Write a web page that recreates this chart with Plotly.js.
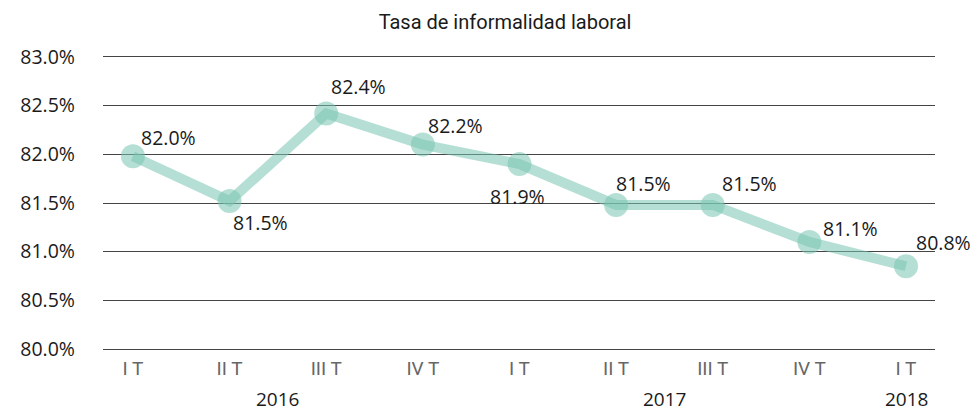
<!DOCTYPE html>
<html>
<head>
<meta charset="utf-8">
<script src="https://cdn.plot.ly/plotly-3.0.1.min.js"></script>
<style>html,body{margin:0;padding:0;background:#fff;}#chart{width:975px;height:413px;}</style>
</head>
<body>
<div id="chart"></div>
<script>
var quarters = ["I T", "II T", "III T", "IV T", "I T", "II T", "III T", "IV T", "I T"];
var values = [81.98, 81.52, 82.42, 82.10, 81.90, 81.48, 81.48, 81.10, 80.85];
var valueLabels = ["82.0%", "81.5%", "82.4%", "82.2%", "81.9%", "81.5%", "81.5%", "81.1%", "80.8%"];
var years = ["2016", "2017", "2018"];
var yearCenters = [1.5, 5.5, 8];
var yTicks = [80.0, 80.5, 81.0, 81.5, 82.0, 82.5, 83.0];

var idx = quarters.map(function(_, i){ return i; });
var labelShift = [
  [36, 19], [31, -21], [32, 27], [33, 19], [-2, -32], [27, 21], [37, 21], [41, 13], [37, 24]
];
var txtFont = {family: "Open Sans, sans-serif", size: 19.5, color: "#1a1a1a"};

var trace = {
  x: idx, y: values, type: "scatter", mode: "lines+markers",
  line: {color: "rgba(120,196,177,0.55)", width: 10},
  marker: {size: 24, color: "rgba(120,196,177,0.55)", line: {width: 0}},
  hoverinfo: "skip"
};

var annotations = values.map(function(v, i){
  return {x: i, y: v, xref: "x", yref: "y", text: valueLabels[i], showarrow: false,
    xshift: labelShift[i][0], yshift: labelShift[i][1], font: txtFont};
});
years.forEach(function(y, i){
  annotations.push({x: yearCenters[i], y: 0, xref: "x", yref: "paper", yanchor: "middle", yshift: -50,
    text: y, showarrow: false, font: {family: "Open Sans, sans-serif", size: 19, color: "#1a1a1a"}});
});

var layout = {
  width: 975, height: 413,
  margin: {l: 103, r: 40, t: 57, b: 64},
  paper_bgcolor: "#fff", plot_bgcolor: "#fff",
  showlegend: false,
  title: {text: "Tasa de informalidad laboral", x: 0.518, xanchor: "center", y: 0.947, yanchor: "middle",
    font: {family: "Roboto, sans-serif", size: 20, color: "#1a1a1a"}},
  xaxis: {range: [-0.31, 8.3], tickmode: "array", tickvals: idx, ticktext: quarters,
    showgrid: false, zeroline: false, showline: true, mirror: true, linecolor: "#444", linewidth: 1,
    ticks: "", ticklabelstandoff: 2,
    tickfont: {family: "Roboto, sans-serif", size: 19, color: "#666"}},
  yaxis: {range: [80.0, 83.0], tickmode: "array", tickvals: yTicks,
    ticktext: yTicks.map(function(t){ return t.toFixed(1) + "%"; }),
    showgrid: true, gridcolor: "#444", gridwidth: 1, zeroline: false, showline: false, ticks: "",
    ticklabelstandoff: 27,
    tickfont: {family: "Open Sans, sans-serif", size: 19.5, color: "#1a1a1a"}},
  annotations: annotations
};

Plotly.newPlot("chart", [trace], layout, {displayModeBar: false, staticPlot: true});
</script>
</body>
</html>
